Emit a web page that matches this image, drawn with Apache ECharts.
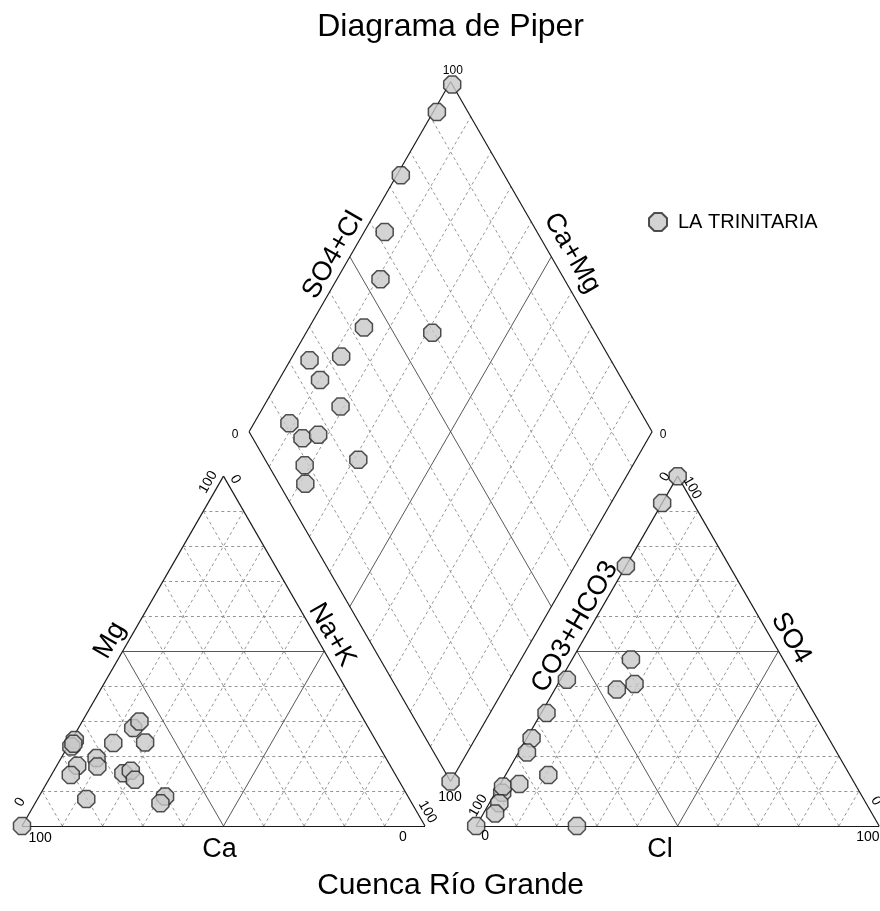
<!DOCTYPE html>
<html>
<head>
<meta charset="utf-8">
<title>Diagrama de Piper</title>
<script src="https://cdn.jsdelivr.net/npm/echarts@6/dist/echarts.min.js"></script>
<style>
  html, body { margin: 0; padding: 0; background: #fff; }
  #chart { width: 880px; height: 911px; }
</style>
</head>
<body>
<div id="chart"></div>
<script>
// Cation composition, % of meq/L
const ca  = [74.6, 76.4, 75.5, 77.7, 80.6, 71.8, 72.8, 65.5, 80.2, 58.4, 55.9, 67.3, 65.1, 57.5, 65.4, 60.3, 62.4, 0];
const mg  = [24.6, 22.7, 23.5, 17.2, 14.6, 19.4, 17.0, 23.7, 7.7, 28.0, 29.9, 15.1, 15.8, 23.9, 13.2, 8.4, 6.5, 0];
const naK = [0.8, 0.9, 1.0, 5.1, 4.8, 8.8, 10.2, 10.8, 12.1, 13.6, 14.2, 17.6, 19.1, 18.6, 21.4, 31.3, 31.1, 0];
// Anion composition, % of meq/L
const hco3 = [0, 7.7, 25.7, 37.8, 74.8, 88.8, 75.0, 45.6, 66.4, 56.6, 87.7, 83.3, 73.7, 91.0, 93.5, 40.4, 76.9, 0];
const so4  = [100, 92.3, 74.3, 47.6, 14.6, 9.5, 0, 39.0, 32.3, 41.8, 11.3, 12.0, 25.1, 6.5, 3.6, 40.6, 21.0, 0];
const cl   = [0, 0, 0, 14.6, 10.6, 1.7, 25.0, 15.4, 1.3, 1.6, 1.0, 4.7, 1.2, 2.5, 2.9, 19.0, 2.1, 0];

const siteName = 'LA TRINITARIA';
const edgeTicks = ['0', '100'];
const chartTitle = 'Diagrama de Piper';
const chartSubtitle = 'Cuenca Río Grande';

// ---- layout (data units: triangle side = 100) ----
const FONT = '"Liberation Sans", Arial, sans-serif';
const H = Math.sqrt(3) / 2;
const GAP = 12.7;                         // space between the two triangles
const RX = 100 + GAP;                     // left corner of the anion triangle
const DB = [100 + GAP / 2, GAP * H];      // bottom corner of the diamond
const ORIGIN_PX = [22, 826];              // pixel position of the Ca corner
const SX = 4.03, SY = 4.04;               // pixels per data unit
const W = 880, HT = 911;
const CENTER_PX = ORIGIN_PX[0] + DB[0] * SX - 5;

function frac(v, s) { return s > 0 ? v / s : 0; }

const cationPts = [], anionPts = [], diamondPts = [];
for (let i = 0; i < ca.length; i++) {
  const sc = ca[i] + mg[i] + naK[i];
  const sa = hco3[i] + so4[i] + cl[i];
  const fMg = frac(mg[i], sc), fNa = frac(naK[i], sc), fCaMg = frac(ca[i] + mg[i], sc);
  const fS = frac(so4[i], sa), fCl = frac(cl[i], sa), fSCl = frac(so4[i] + cl[i], sa);
  cationPts.push([100 * (fNa + fMg / 2), 100 * H * fMg]);
  anionPts.push([RX + 100 * (fCl + fS / 2), 100 * H * fS]);
  diamondPts.push([DB[0] + 50 * (fSCl - fCaMg), DB[1] + 100 * H * (fSCl + fCaMg)]);
}

// ---- frame and grid segments ----
const outline = [], major = [], minor = [];
function seg(list, p, q) { list.push({ coords: [p, q] }); }

function triangle(ox) {
  const A = [ox, 0], B = [ox + 100, 0], C = [ox + 50, 100 * H];
  seg(outline, A, B); seg(outline, B, C); seg(outline, C, A);
  for (let k = 1; k < 10; k++) {
    const t = k / 10, list = k === 5 ? major : minor;
    seg(list, [ox + 50 * t, 100 * H * t], [ox + 100 - 50 * t, 100 * H * t]);
    seg(list, [ox + 100 * t, 0], [ox + 50 + 50 * t, 100 * H * (1 - t)]);
    seg(list, [ox + 100 * t, 0], [ox + 50 * t, 100 * H * t]);
  }
}
triangle(0);
triangle(RX);

const DL = [DB[0] - 50, DB[1] + 100 * H];
const DR = [DB[0] + 50, DB[1] + 100 * H];
const DT = [DB[0], DB[1] + 200 * H];
seg(outline, DB, DL); seg(outline, DL, DT); seg(outline, DT, DR); seg(outline, DR, DB);
for (let k = 1; k < 10; k++) {
  const t = k / 10, list = k === 5 ? major : minor;
  const p = [DB[0] - 50 * t, DB[1] + 100 * H * t];
  seg(list, p, [p[0] + 50, p[1] + 100 * H]);
  const q = [DB[0] + 50 * t, DB[1] + 100 * H * t];
  seg(list, q, [q[0] - 50, q[1] + 100 * H]);
}

// ---- text placed along the plots: [x, y, text, rotation, fontSize] ----
const T0 = edgeTicks[0], T100 = edgeTicks[1];
const notes = [
  // cation triangle
  [4.5, -3.0, T100, 0, 14], [-0.5, 5.9, T0, 60, 14],
  [46.2, 85.1, T100, 60, 14], [52.9, 85.8, T0, -60, 14],
  [100.6, 3.5, T100, -60, 14], [94.5, -2.7, T0, 0, 14],
  [49.0, -5.8, 'Ca', 0, 27], [21.8, 46.0, 'Mg', 60, 27], [76.9, 47.3, 'Na+K', -60, 27],
  // anion triangle
  [113.2, 5.0, T100, 60, 14], [114.9, -2.6, T0, 0, 14],
  [159.6, 86.4, T0, 60, 14], [166.3, 83.7, T100, -60, 14],
  [211.9, 6.2, T0, -60, 14], [209.9, -2.7, T100, 0, 14],
  [158.3, -5.8, 'Cl', 0, 27], [137.2, 49.3, 'CO3+HCO3', 60, 27], [190.8, 46.5, 'SO4', -60, 27],
  // diamond
  [106.9, 186.9, T100, 0, 12], [52.9, 96.8, T0, 0, 12],
  [159.1, 96.8, T0, 0, 12], [106.2, 7.2, T100, 0, 14],
  [77.2, 141.3, 'SO4+Cl', 60, 27], [136.5, 141.8, 'Ca+Mg', -60, 27]
];

const octagon = 'path://M0.383,-0.924L0.924,-0.383L0.924,0.383L0.383,0.924L-0.383,0.924L-0.924,0.383L-0.924,-0.383L-0.383,-0.924Z';
const pointStyle = { color: '#c8c8c8', borderColor: '#262626', borderWidth: 1.5 };

function pointSeries(data) {
  return {
    type: 'scatter', name: siteName, data: data,
    symbol: octagon, symbolSize: 17, itemStyle: pointStyle,
    z: 5, silent: true, clip: false
  };
}
function lineSeries(data, style, z) {
  return {
    type: 'lines', coordinateSystem: 'cartesian2d', polyline: false,
    data: data, lineStyle: style, silent: true, z: z
  };
}

const chart = echarts.init(document.getElementById('chart'), null, { renderer: 'canvas' });
chart.setOption({
  animation: false,
  backgroundColor: '#fff',
  title: [
    { text: chartTitle, left: CENTER_PX, textAlign: 'center', top: 6,
      textStyle: { fontFamily: FONT, fontSize: 32, fontWeight: 'normal', color: '#000' } },
    { text: chartSubtitle, left: CENTER_PX, textAlign: 'center', top: 866,
      textStyle: { fontFamily: FONT, fontSize: 30, fontWeight: 'normal', color: '#000' } }
  ],
  legend: {
    data: [{ name: siteName, icon: octagon }],
    left: 643, top: 207, itemWidth: 18, itemHeight: 18,
    selectedMode: false,
    textStyle: { fontFamily: FONT, fontSize: 20, color: '#000', padding: [0, 0, 0, 6] }
  },
  grid: { left: 0, top: 0, width: W, height: HT },
  xAxis: { type: 'value', min: -ORIGIN_PX[0] / SX, max: (W - ORIGIN_PX[0]) / SX, show: false },
  yAxis: { type: 'value', min: -(HT - ORIGIN_PX[1]) / SY, max: ORIGIN_PX[1] / SY, show: false },
  series: [
    lineSeries(minor, { color: '#7a7a7a', width: 0.8, type: [3, 3], opacity: 1 }, 1),
    lineSeries(major, { color: '#444', width: 0.9, type: 'solid', opacity: 1 }, 2),
    lineSeries(outline, { color: '#1a1a1a', width: 1.2, type: 'solid', opacity: 1 }, 3),
    pointSeries(cationPts),
    pointSeries(anionPts),
    pointSeries(diamondPts),
    {
      type: 'scatter', name: 'etiquetas', symbolSize: 0, silent: true, z: 6, clip: false,
      itemStyle: { opacity: 1 },
      data: notes.map(n => ({
        value: [n[0], n[1]],
        label: { show: true, position: 'inside', formatter: n[2], rotate: n[3],
                 fontSize: n[4], fontFamily: FONT, color: '#000', opacity: 1 }
      }))
    }
  ]
});
</script>
</body>
</html>
